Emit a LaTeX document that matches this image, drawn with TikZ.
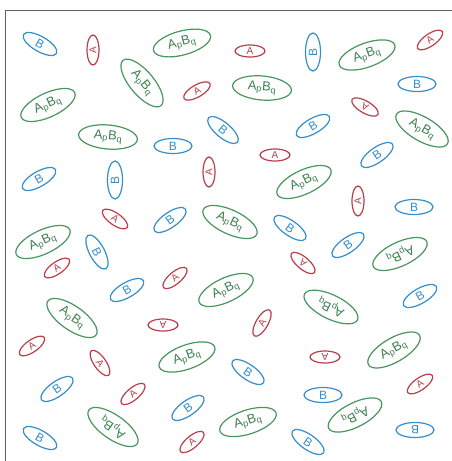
\documentclass[tikz,border=0pt]{standalone}
\usepackage{fontspec}
\setmainfont{Liberation Sans}
\usetikzlibrary{shapes.geometric}
\definecolor{redA}{RGB}{186,62,72}
\definecolor{blueB}{RGB}{52,142,202}
\definecolor{greenAB}{RGB}{72,150,92}
\definecolor{frame}{RGB}{95,95,95}

\begin{document}
\begin{tikzpicture}[x=1pt, y=-1pt, line width=1.2pt,
  ellA/.style={ellipse, draw=redA, text=redA, inner sep=0pt,
    minimum width=30pt, minimum height=12pt, font=\fontsize{10}{10}\selectfont},
  ellB/.style={ellipse, draw=blueB, text=blueB, inner sep=0pt,
    minimum width=38pt, minimum height=15pt, font=\fontsize{12}{12}\selectfont},
  ellAB/.style={ellipse, draw=greenAB, text=greenAB!85!black, inner sep=0pt,
    minimum width=59pt, minimum height=24pt, font=\fontsize{13}{13}\selectfont},
]
  \useasboundingbox (0,0) rectangle (452,461);
  % 边框（只有上边和左边）
  \coordinate (TL) at (5,10);
  \coordinate (TR) at (452,10);
  \coordinate (BL) at (5,461);
  \draw[frame, line width=1pt] (BL) -- (TL) -- (TR);
  % 红色 A
  \foreach \x/\y/\r [count=\i] in {93/50/90, 250/51/0, 430/40/35, 197/91/30,
      365/107/150, 275/155/0, 209/172/90, 358/201/90, 115/219/-35,
      57/268/35, 175/278/40, 303/263/140, 163/325/180, 262/323/60,
      32/346/35, 100/363/-55, 325/357/180, 420/384/35, 133/394/40,
      192/442/40}
    \node[ellA, rotate=\r] (a\i) at (\x,\y) {A};
  % 蓝色 B
  \foreach \x/\y/\r [count=\i] in {40/44/-30, 313/52/90, 417/84/0,
      223/130/-40, 313/126/30, 173/146/0, 377/155/35, 39/179/30,
      115/180/90, 414/207/0, 170/220/35, 290/228/-35, 348/245/35,
      97/252/-62, 127/290/30, 420/296/30, 248/372/-35, 57/389/35,
      188/408/35, 323/395/0, 40/438/-30, 308/442/-35, 415/430/180}
    \node[ellB, rotate=\r] (b\i) at (\x,\y) {B};
  % 绿色 ApBq
  \foreach \x/\y/\r [count=\i] in {182/43/15, 367/55/20, 142/83/-50,
      262/88/-5, 48/105/25, 422/129/-30, 108/137/-5, 304/182/25,
      230/222/-25, 43/242/25, 400/254/205, 226/290/25, 72/318/-35,
      331/307/154, 187/357/20, 394/350/30, 113/427/145, 248/422/18,
      355/415/207}
    \node[ellAB, rotate=\r] (ab\i) at (\x,\y)
      {A\textsubscript{p}B\textsubscript{q}};
\end{tikzpicture}
\end{document}
